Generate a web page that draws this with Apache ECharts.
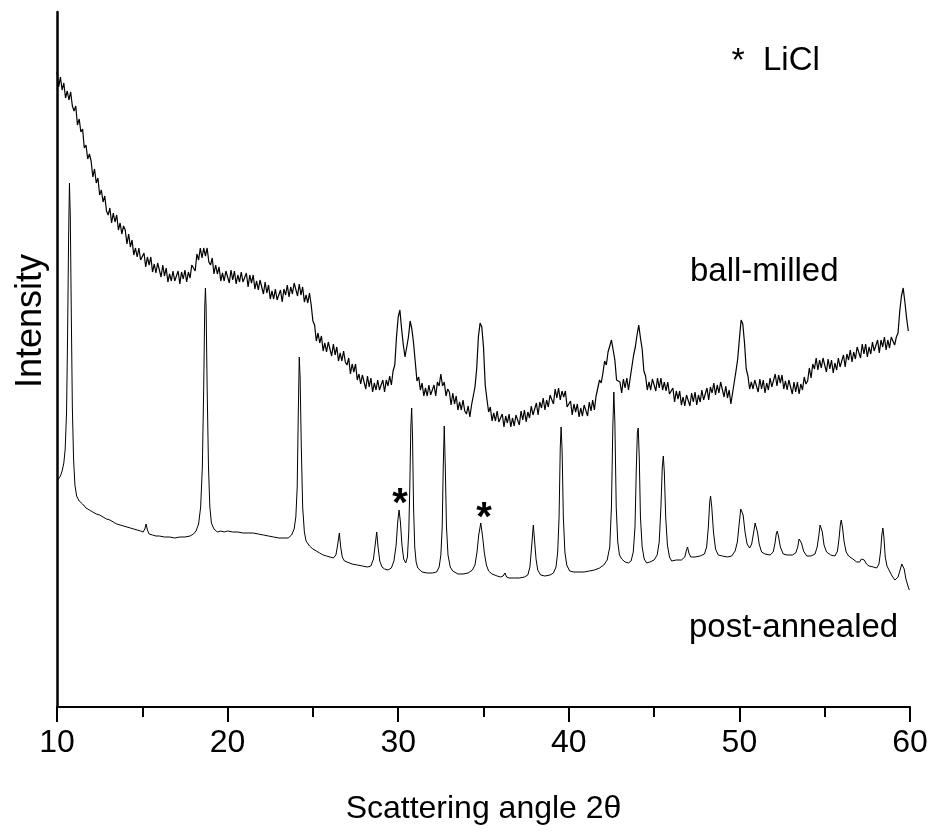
<!DOCTYPE html>
<html>
<head>
<meta charset="utf-8">
<script src="https://cdn.jsdelivr.net/npm/echarts@6/dist/echarts.min.js"></script>
<style>
html,body{margin:0;padding:0;background:#fff;}
#chart{width:935px;height:836px;}
</style>
</head>
<body>
<div id="chart"></div>
<script>
// X axis (scattering angle 2θ)
const xMin = 10, xMax = 60, xInterval = 10;
const xTickLabels = ['10', '20', '30', '40', '50', '60'];

// Ball-milled pattern: intensity (arbitrary units) sampled every 0.1° starting at 10.0°
const ballMilledStart = 10.0;
const ballMilledStep = 0.1;
const ballMilled = [
  635, 620, 630, 617, 624, 609, 616, 607, 615, 601,
  596, 601, 582, 588, 575, 578, 559, 562, 548, 553,
  546, 530, 538, 524, 529, 512, 517, 505, 511, 496,
  492, 499, 484, 494, 485, 492, 477, 484, 473, 481,
  477, 463, 473, 460, 467, 452, 459, 450, 459, 447,
  446, 454, 440, 450, 442, 450, 435, 443, 434, 444,
  442, 430, 442, 431, 439, 425, 433, 426, 436, 426,
  426, 436, 423, 435, 428, 437, 425, 435, 429, 442,
  444, 436, 453, 447, 459, 449, 459, 451, 459, 445,
  442, 449, 433, 442, 433, 440, 426, 434, 426, 436,
  435, 424, 437, 427, 436, 423, 432, 425, 435, 425,
  424, 434, 420, 432, 424, 432, 418, 426, 417, 427,
  425, 413, 425, 414, 422, 408, 416, 408, 418, 407,
  407, 417, 405, 418, 412, 422, 410, 420, 413, 424,
  423, 411, 423, 412, 420, 405, 412, 404, 414, 402,
  386, 382, 366, 374, 364, 371, 356, 364, 355, 365,
  363, 351, 363, 352, 360, 346, 354, 346, 356, 345,
  342, 349, 333, 343, 335, 343, 327, 333, 323, 332,
  330, 318, 331, 320, 329, 315, 324, 317, 327, 317,
  317, 327, 315, 327, 321, 331, 322, 336, 342, 370,
  390, 397, 378, 362, 350, 360, 370, 386, 378, 364,
  345, 326, 330, 317, 324, 311, 319, 311, 322, 312,
  311, 322, 311, 325, 321, 333, 321, 325, 311, 318,
  315, 302, 314, 303, 311, 297, 305, 297, 307, 296,
  293, 301, 290, 302, 303, 320, 338, 370, 384, 380,
  360, 322, 308, 295, 300, 286, 294, 286, 296, 285,
  284, 293, 280, 291, 284, 293, 280, 289, 281, 292,
  292, 282, 296, 287, 297, 285, 295, 289, 301, 292,
  293, 304, 292, 305, 299, 309, 297, 307, 300, 312,
  312, 303, 318, 309, 319, 307, 316, 310, 316, 300,
  298, 306, 292, 303, 295, 303, 290, 299, 291, 302,
  302, 291, 305, 296, 307, 297, 311, 310, 327, 324,
  334, 346, 342, 355, 353, 367, 357, 347, 327, 326,
  325, 314, 328, 319, 329, 317, 329, 330, 352, 360,
  372, 382, 369, 358, 336, 331, 317, 325, 317, 328,
  327, 316, 329, 319, 329, 317, 325, 316, 325, 313,
  311, 319, 305, 316, 308, 316, 302, 310, 301, 312,
  311, 301, 314, 305, 315, 302, 312, 305, 317, 307,
  308, 319, 307, 320, 314, 324, 312, 322, 314, 325,
  323, 310, 321, 309, 317, 303, 314, 313, 336, 348,
  368, 387, 383, 364, 338, 331, 318, 325, 318, 327,
  326, 315, 328, 318, 327, 314, 324, 317, 329, 320,
  322, 333, 321, 332, 324, 332, 318, 326, 317, 327,
  325, 313, 325, 315, 325, 313, 323, 317, 330, 323,
  326, 339, 329, 343, 338, 349, 337, 347, 339, 349,
  347, 335, 348, 338, 347, 334, 344, 337, 349, 340,
  341, 352, 340, 353, 347, 357, 345, 355, 348, 360,
  360, 349, 363, 353, 363, 350, 360, 353, 365, 356,
  356, 367, 354, 367, 360, 370, 357, 367, 359, 370,
  366, 362, 370, 374, 396, 411, 419, 405, 389, 376
];

// Post-annealed pattern: [2θ, intensity] pairs
const postAnnealed = [
  [10.00,226],[10.10,228],[10.20,231],[10.30,236],[10.40,244],[10.48,258],[10.56,295],[10.62,370],[10.68,470],[10.73,524],
  [10.78,490],[10.84,390],[10.90,300],[10.97,248],[11.05,222],[11.15,211],[11.30,206],[11.50,203],[11.70,199],[11.90,197],
  [12.10,195],[12.30,193],[12.50,192],[12.70,190],[12.90,188],[13.10,187],[13.30,185],[13.50,183],[13.70,182],[13.90,181],
  [14.10,180],[14.30,179],[14.50,178],[14.70,177],[14.90,176],[15.05,175],[15.15,178],[15.22,183],[15.30,177],[15.40,173],
  [15.60,172],[15.80,171],[16.00,171],[16.30,170],[16.60,170],[16.90,169],[17.20,170],[17.50,170],[17.80,171],[18.00,173],
  [18.15,176],[18.30,183],[18.42,200],[18.52,240],[18.60,320],[18.66,400],[18.70,419],[18.74,400],[18.80,320],[18.88,240],
  [18.96,200],[19.05,184],[19.20,178],[19.40,175],[19.60,176],[19.80,175],[20.00,176],[20.30,175],[20.60,175],[20.90,174],
  [21.20,174],[21.50,174],[21.80,173],[22.10,172],[22.40,171],[22.70,170],[23.00,169],[23.30,169],[23.55,169],[23.75,172],
  [23.90,178],[24.00,190],[24.08,220],[24.14,290],[24.20,350],[24.25,330],[24.32,260],[24.40,200],[24.50,175],[24.60,166],
  [24.80,161],[25.00,158],[25.20,156],[25.40,154],[25.60,152],[25.80,151],[26.00,150],[26.20,149],[26.35,152],[26.45,162],
  [26.55,174],[26.63,160],[26.72,150],[26.85,146],[27.00,145],[27.30,143],[27.60,142],[27.90,141],[28.20,140],[28.40,141],
  [28.55,148],[28.65,162],[28.74,175],[28.82,160],[28.92,146],[29.05,140],[29.20,138],[29.40,137],[29.60,139],[29.75,146],
  [29.88,162],[29.97,185],[30.05,197],[30.13,185],[30.22,162],[30.32,148],[30.44,144],[30.54,150],[30.62,175],[30.68,220],
  [30.74,280],[30.79,299],[30.84,270],[30.90,200],[30.97,160],[31.05,145],[31.15,139],[31.40,135],[31.70,134],[32.00,134],
  [32.25,135],[32.40,140],[32.50,152],[32.58,180],[32.64,240],[32.70,281],[32.76,240],[32.83,180],[32.92,152],[33.05,140],
  [33.20,136],[33.50,133],[33.80,133],[34.10,134],[34.35,137],[34.50,142],[34.62,155],[34.72,172],[34.84,184],[34.95,170],
  [35.05,154],[35.17,142],[35.30,136],[35.50,133],[35.80,131],[36.00,130],[36.15,131],[36.26,134],[36.35,130],[36.50,129],
  [36.80,129],[37.10,129],[37.40,130],[37.60,132],[37.72,140],[37.82,160],[37.92,182],[38.00,165],[38.08,148],[38.18,137],
  [38.35,132],[38.60,131],[38.90,132],[39.10,134],[39.25,140],[39.35,155],[39.43,190],[39.50,260],[39.55,280],[39.61,255],
  [39.68,190],[39.77,155],[39.88,142],[40.05,136],[40.30,135],[40.60,135],[40.90,135],[41.20,136],[41.50,137],[41.80,139],
  [42.05,142],[42.25,147],[42.40,160],[42.50,200],[42.58,280],[42.64,315],[42.70,285],[42.78,200],[42.87,165],[42.97,152],
  [43.10,148],[43.30,145],[43.50,144],[43.65,146],[43.78,155],[43.88,180],[43.96,240],[44.02,275],[44.07,279],[44.13,250],
  [44.20,190],[44.30,160],[44.42,148],[44.56,144],[44.75,145],[45.00,147],[45.18,152],[45.30,165],[45.40,200],[45.48,240],
  [45.54,251],[45.60,235],[45.68,190],[45.78,162],[45.90,150],[46.03,146],[46.30,147],[46.60,147],[46.80,150],[46.90,157],
  [46.96,160],[47.04,154],[47.15,150],[47.40,150],[47.70,151],[47.95,153],[48.08,160],[48.18,180],[48.26,205],[48.31,211],
  [48.38,200],[48.48,175],[48.60,158],[48.76,152],[49.00,151],[49.30,150],[49.55,151],[49.75,156],[49.88,165],[49.98,182],
  [50.08,198],[50.14,200],[50.22,192],[50.33,175],[50.45,163],[50.60,159],[50.72,163],[50.84,175],[50.92,184],[50.98,185],
  [51.06,175],[51.16,163],[51.30,155],[51.50,153],[51.80,152],[51.98,155],[52.08,163],[52.16,173],[52.22,176],[52.30,170],
  [52.40,160],[52.57,153],[52.80,152],[53.10,152],[53.30,154],[53.42,160],[53.50,168],[53.56,170],[53.64,164],[53.76,156],
  [53.95,151],[54.20,151],[54.43,153],[54.56,160],[54.66,172],[54.73,182],[54.78,183],[54.86,175],[54.96,162],[55.11,155],
  [55.35,152],[55.60,151],[55.75,156],[55.85,170],[55.92,183],[55.97,187],[56.04,180],[56.14,165],[56.26,155],[56.40,151],
  [56.65,148],[56.88,145],[57.05,145],[57.15,148],[57.23,150],[57.32,147],[57.45,143],[57.60,141],[57.85,140],[58.05,139],
  [58.18,143],[58.28,156],[58.35,172],[58.41,179],[58.47,170],[58.55,150],[58.65,141],[58.80,136],[58.95,131],[59.12,127],
  [59.30,130],[59.42,137],[59.52,143],[59.58,144],[59.66,138],[59.76,128],[59.88,121],[59.96,117]
];

const yMin = 0, yMax = 695;

const ballMilledData = ballMilled.map((v, i) => [+(ballMilledStart + i * ballMilledStep).toFixed(1), v]);

const FONT = '"Liberation Sans", Arial, Helvetica, sans-serif';
const chart = echarts.init(document.getElementById('chart'), null, { renderer: 'canvas' });

chart.setOption({
  animation: false,
  backgroundColor: '#ffffff',
  grid: { left: 57, right: 25, top: 12, bottom: 129, containLabel: false, outerBoundsMode: 'none' },
  xAxis: {
    type: 'value',
    min: xMin, max: xMax, interval: xInterval,
    name: 'Scattering angle 2\u03B8',
    nameLocation: 'middle',
    nameGap: 86,
    nameTextStyle: { fontFamily: FONT, fontSize: 32, color: '#000' },
    axisLine: { show: true, onZero: false, lineStyle: { color: '#000', width: 2 } },
    axisTick: { show: true, inside: false, length: 15, lineStyle: { color: '#000', width: 2 } },
    minorTick: { show: true, splitNumber: 2, length: 10, lineStyle: { color: '#000', width: 2 } },
    axisLabel: {
      margin: 20, fontFamily: FONT, fontSize: 32, color: '#000',
      formatter: v => xTickLabels[Math.round((v - xMin) / xInterval)] || ''
    },
    splitLine: { show: false },
    minorSplitLine: { show: false }
  },
  yAxis: {
    type: 'value',
    min: yMin, max: yMax,
    axisLine: { show: true, onZero: false, lineStyle: { color: '#000', width: 2.5 } },
    axisTick: { show: false },
    axisLabel: { show: false },
    splitLine: { show: false }
  },
  series: [
    {
      name: 'ball-milled',
      type: 'line',
      data: ballMilledData,
      showSymbol: false,
      symbol: 'none',
      lineStyle: { color: '#000', width: 1.2 },
      z: 3
    },
    {
      name: 'post-annealed',
      type: 'line',
      data: postAnnealed,
      showSymbol: false,
      symbol: 'none',
      lineStyle: { color: '#000', width: 1 },
      z: 2
    }
  ],
  graphic: [
    {
      type: 'text', x: 31, y: 321, rotation: Math.PI / 2,
      style: { text: 'Intensity', fontFamily: FONT, fontSize: 36, fill: '#000', align: 'center', verticalAlign: 'middle' }
    },
    {
      type: 'text', x: 690, y: 272,
      style: { text: 'ball-milled', fontFamily: FONT, fontSize: 33, fill: '#000', align: 'left', verticalAlign: 'middle' }
    },
    {
      type: 'text', x: 689, y: 628,
      style: { text: 'post-annealed', fontFamily: FONT, fontSize: 33, fill: '#000', align: 'left', verticalAlign: 'middle' }
    },
    {
      type: 'text', x: 738, y: 62,
      style: { text: '*', fontFamily: FONT, fontSize: 34, fill: '#000', align: 'center', verticalAlign: 'middle' }
    },
    {
      type: 'text', x: 763, y: 61,
      style: { text: 'LiCl', fontFamily: FONT, fontSize: 33, fill: '#000', align: 'left', verticalAlign: 'middle' }
    },
    {
      type: 'text', x: 400, y: 505,
      style: { text: '*', fontFamily: FONT, fontSize: 40, fontWeight: 'bold', fill: '#000', align: 'center', verticalAlign: 'middle' }
    },
    {
      type: 'text', x: 484, y: 519,
      style: { text: '*', fontFamily: FONT, fontSize: 40, fontWeight: 'bold', fill: '#000', align: 'center', verticalAlign: 'middle' }
    }
  ]
});
</script>
</body>
</html>
